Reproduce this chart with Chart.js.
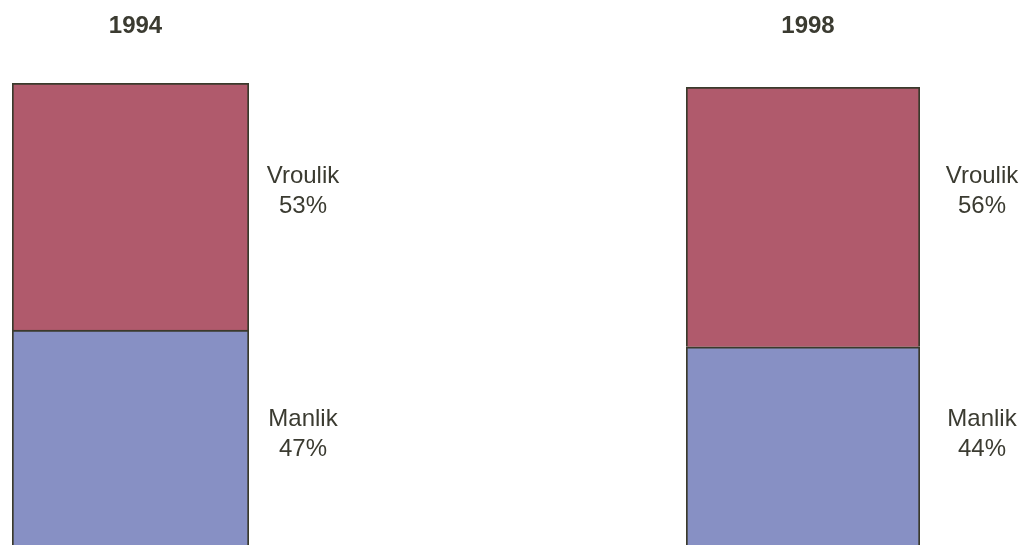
<!DOCTYPE html>
<html>
<head>
<meta charset="utf-8">
<script src="https://cdn.jsdelivr.net/npm/chart.js@4/dist/chart.umd.min.js"></script>
<style>
  html, body { margin: 0; padding: 0; background: #ffffff; overflow: hidden; }
  #wrap { position: relative; width: 1027px; height: 545px; overflow: hidden; background: #ffffff; }
  canvas { position: absolute; top: 0; }
  #c1994 { left: 0; }
  #c1998 { left: 650px; }
</style>
</head>
<body>
<div id="wrap">
  <canvas id="c1994" width="400" height="560"></canvas>
  <canvas id="c1998" width="377" height="560"></canvas>
</div>
<script>
// Survey years and gender shares (percent)
const years = ['1994', '1998'];
const seriesNames = ['Manlik', 'Vroulik'];
const manlik = [47, 44];
const vroulik = [53, 56];

const INK = '#3b3b31';
const RED = '#b05a6c';
const BLUE = '#8790c4';
const EDGE = '#3a3a2c';

// Year heading above the bar, and "name / value%" notes to the right of it
const notesPlugin = {
  id: 'notes',
  afterDatasetsDraw(chart, args, opts) {
    const ctx = chart.ctx;
    const meta = chart.getDatasetMeta(0);
    const bar = meta.data[0];
    const barLeft = bar.x - bar.width / 2;
    const barRight = bar.x + bar.width / 2;
    ctx.save();
    ctx.fillStyle = INK;
    ctx.textAlign = 'center';
    ctx.textBaseline = 'alphabetic';
    ctx.font = 'bold 24px "Liberation Sans", Arial, sans-serif';
    ctx.fillText(chart.data.labels[0], bar.x + opts.titleShift, 33);
    ctx.font = '24px "Liberation Sans", Arial, sans-serif';
    chart.data.datasets.forEach((ds, i) => {
      const cy = opts.noteCenters[i];
      const x = barRight + opts.noteGap;
      ctx.fillText(ds.label, x, cy - 6);
      ctx.fillText(ds.data[0] + '%', x, cy + 24);
    });
    ctx.restore();
  }
};

function makeChart(id, idx, pad, noteGap, titleShift) {
  return new Chart(document.getElementById(id), {
    type: 'bar',
    data: {
      labels: [years[idx]],
      datasets: [
        { label: seriesNames[0], data: [manlik[idx]], backgroundColor: BLUE },
        { label: seriesNames[1], data: [vroulik[idx]], backgroundColor: RED }
      ]
    },
    options: {
      responsive: false,
      animation: false,
      devicePixelRatio: 1,
      layout: { padding: pad },
      datasets: {
        bar: {
          borderColor: EDGE,
          borderWidth: 2,
          borderSkipped: 'start',
          barPercentage: 1,
          categoryPercentage: 1
        }
      },
      scales: {
        x: { stacked: true, display: false },
        y: { stacked: true, display: false, min: 0, max: 100 }
      },
      plugins: {
        legend: { display: false },
        tooltip: { enabled: false },
        notes: { noteCenters: [432, 189], noteGap: noteGap, titleShift: titleShift }
      }
    },
    plugins: [notesPlugin]
  });
}

makeChart('c1994', 0, { left: 12, right: 151, top: 83, bottom: 11 }, 54, 5);
makeChart('c1998', 1, { left: 36, right: 107, top: 87, bottom: 9 }, 62, 5);
</script>
</body>
</html>
